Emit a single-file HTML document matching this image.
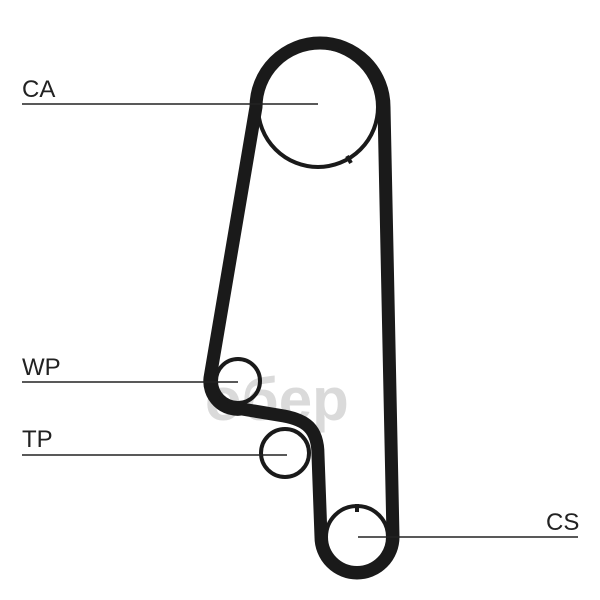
<!DOCTYPE html>
<html><head><meta charset="utf-8"><style>
html,body{margin:0;padding:0;background:#fff;width:600px;height:600px;overflow:hidden}
</style></head><body>
<svg width="600" height="600" viewBox="0 0 600 600" xmlns="http://www.w3.org/2000/svg">
<rect width="600" height="600" fill="#fff"/>
<text x="205" y="420" font-family="Liberation Sans, sans-serif" font-size="60" font-weight="bold" fill="#dadada">обер</text>
<path d="M 256,107 A 64 64 0 0 1 384,107 L 393,537 A 36 36 0 0 1 321,537 L 318,455 C 318,428 305,420 284,416 L 242,409 A 28 28 0 0 1 210,378 Z" fill="none" stroke="#1a1a1a" stroke-width="13" stroke-linejoin="round"/>
<circle cx="318" cy="107" r="60" fill="none" stroke="#1a1a1a" stroke-width="4"/>
<line x1="347" y1="156" x2="351" y2="163" stroke="#1a1a1a" stroke-width="4"/>
<circle cx="238" cy="381" r="22" fill="none" stroke="#1a1a1a" stroke-width="4"/>
<circle cx="285" cy="453" r="24" fill="none" stroke="#1a1a1a" stroke-width="4"/>
<circle cx="357" cy="537" r="31" fill="none" stroke="#1a1a1a" stroke-width="4"/>
<line x1="357" y1="504" x2="357" y2="512" stroke="#1a1a1a" stroke-width="4"/>
<g stroke="#222" stroke-width="1.5">
<line x1="22" y1="104" x2="318" y2="104"/>
<line x1="22" y1="382" x2="238" y2="382"/>
<line x1="22" y1="455" x2="287" y2="455"/>
<line x1="358" y1="537" x2="578" y2="537"/>
</g>
<g font-family="Liberation Sans, sans-serif" font-size="24" fill="#222">
<text x="22" y="97">CA</text>
<text x="22" y="375">WP</text>
<text x="22" y="447">TP</text>
<text x="546" y="530">CS</text>
</g>
</svg>
</body></html>
